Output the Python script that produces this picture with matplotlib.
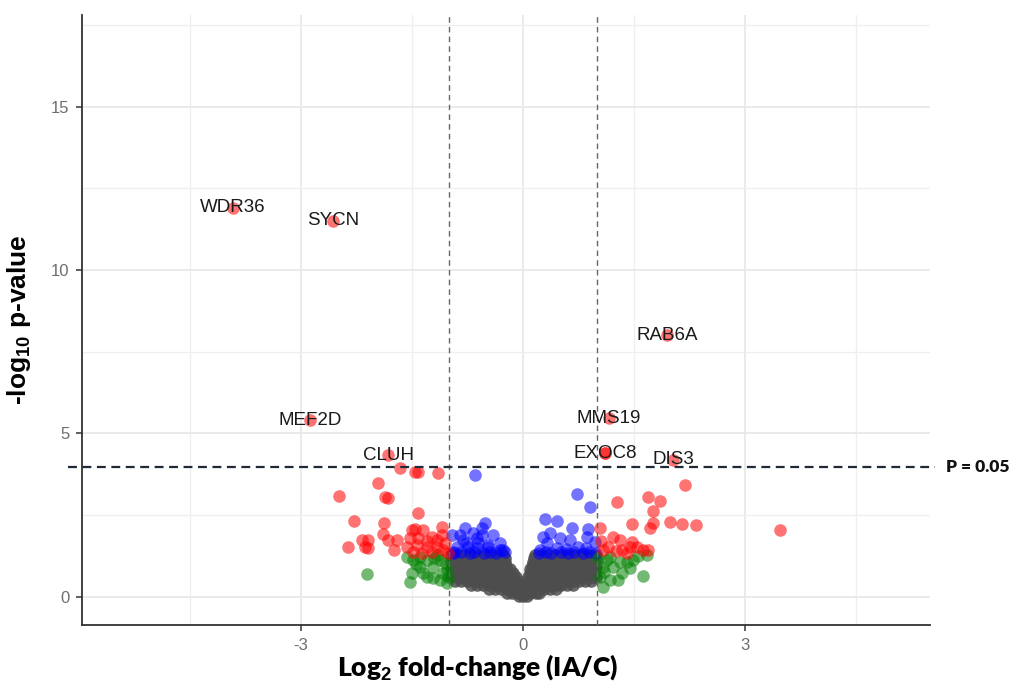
import matplotlib
matplotlib.use("Agg")
import matplotlib.pyplot as plt
from matplotlib.ticker import MultipleLocator

# ---------------- data ----------------
# dense non-significant cloud (grey), hand-read row by row
gray_row_y = [0.02, 0.12, 0.24, 0.36, 0.48, 0.60, 0.72, 0.84, 0.96, 1.08, 1.20, 1.28]
gray_row_x = [
    [-0.05, 0.0, 0.05],
    [-0.22, -0.15, -0.08, -0.02, 0.04, 0.10, 0.17, 0.22],
    [-0.46, -0.38, -0.30, -0.22, -0.14, -0.07, 0.0, 0.07, 0.14, 0.21, 0.29, 0.37, 0.45],
    [-0.70, -0.62, -0.54, -0.46, -0.38, -0.30, -0.22, -0.14, -0.06, 0.04, 0.12, 0.20,
     0.28, 0.36, 0.44, 0.52, 0.60, 0.68],
    [-0.92, -0.84, -0.76, -0.68, -0.60, -0.52, -0.44, -0.36, -0.28, -0.20, -0.12, -0.07,
     0.05, 0.12, 0.20, 0.28, 0.36, 0.44, 0.52, 0.60, 0.68, 0.76, 0.84, 0.92],
    [-0.97, -0.89, -0.81, -0.73, -0.65, -0.57, -0.49, -0.41, -0.33, -0.25, -0.17, -0.10,
     0.07, 0.14, 0.22, 0.30, 0.38, 0.46, 0.54, 0.62, 0.70, 0.78, 0.86, 0.94, 0.98],
    [-0.95, -0.87, -0.79, -0.71, -0.63, -0.55, -0.47, -0.39, -0.31, -0.23, -0.14,
     0.09, 0.16, 0.24, 0.32, 0.40, 0.48, 0.56, 0.64, 0.72, 0.80, 0.88, 0.96],
    [-0.97, -0.89, -0.81, -0.73, -0.65, -0.57, -0.49, -0.41, -0.33, -0.25, -0.17,
     0.10, 0.17, 0.25, 0.33, 0.41, 0.49, 0.57, 0.65, 0.73, 0.81, 0.89, 0.97],
    [-0.95, -0.87, -0.79, -0.71, -0.63, -0.55, -0.47, -0.39, -0.31, -0.23,
     0.12, 0.19, 0.27, 0.35, 0.43, 0.51, 0.59, 0.67, 0.75, 0.83, 0.91, 0.98],
    [-0.97, -0.89, -0.81, -0.73, -0.65, -0.57, -0.49, -0.41, -0.33, -0.25,
     0.13, 0.21, 0.29, 0.37, 0.45, 0.53, 0.61, 0.69, 0.77, 0.85, 0.93],
    [-0.95, -0.87, -0.79, -0.71, -0.63, -0.55, -0.47, -0.39, -0.31, -0.25,
     0.15, 0.22, 0.30, 0.38, 0.46, 0.54, 0.62, 0.70, 0.78, 0.86, 0.94, 0.98],
    [-0.97, -0.88, -0.79, -0.70, -0.61, -0.52, -0.43, -0.34, -0.27,
     0.16, 0.25, 0.34, 0.43, 0.52, 0.61, 0.70, 0.79, 0.88, 0.97],
]

# significant p, small fold change (blue)
blue_x = [-0.65, -0.78, -0.68, -0.51, -0.55, -0.40, -0.96, -0.81, -0.62, -0.74, -0.47,
          -0.31, -0.89, -0.61, -0.85, -0.55, -0.47, -0.76, -0.31, -0.62, -0.27, -0.95,
          -0.93, -0.84, -0.72, -0.66, -0.53, -0.44, -0.36, -0.24,
          0.73, 0.91, 0.30, 0.46, 0.66, 0.88, 0.36, 0.27, 0.50, 0.64, 0.86, 0.97,
          0.32, 0.74, 0.46, 0.23, 0.58, 0.85,
          0.21, 0.31, 0.38, 0.52, 0.61, 0.69, 0.81, 0.89, 0.98]
blue_y = [3.73, 2.10, 1.96, 2.26, 2.10, 1.90, 1.90, 1.74, 1.80, 1.53, 1.53,
          1.44, 1.53, 1.65, 1.90, 1.90, 1.59, 1.65, 1.65, 1.50, 1.44, 1.38,
          1.34, 1.37, 1.33, 1.36, 1.34, 1.38, 1.33, 1.36,
          3.15, 2.75, 2.39, 2.33, 2.10, 2.08, 1.96, 1.84, 1.80, 1.74, 1.84, 1.68,
          1.65, 1.53, 1.50, 1.44, 1.45, 1.50,
          1.34, 1.37, 1.33, 1.36, 1.34, 1.38, 1.33, 1.36, 1.34]

# large fold change, non-significant (green)
green_x = [-2.11, -1.57, -1.49, -1.50, -1.53, -1.39, -1.30, -1.22, -1.12, -1.08, -1.03,
           -1.30, -1.22, -1.39, -1.16, -1.35, -1.03, -1.12, -1.45, -1.05, -1.20, -1.02,
           1.62, 1.28, 1.41, 1.68, 1.45, 1.18, 1.08, 1.04, 1.08, 1.22, 1.31, 1.14,
           1.34, 1.18, 1.49, 1.02, 1.10, 1.55]
green_y = [0.70, 1.22, 1.13, 0.73, 0.46, 0.92, 1.13, 0.92, 1.13, 0.73, 0.43,
           0.61, 0.58, 1.22, 1.28, 0.73, 0.83, 0.52, 1.00, 1.05, 1.20, 0.62,
           0.64, 0.52, 1.07, 1.28, 0.89, 1.22, 0.92, 0.61, 0.30, 0.92, 1.07, 1.13,
           0.73, 0.52, 1.13, 1.20, 0.75, 1.25]

# large fold change and significant (red)
red_x = [-2.49, -1.96, -1.86, -1.82, -1.66, -1.46, -1.42, -1.15, -1.42, -2.28, -1.88,
         -2.37, -2.18, -2.09, -2.14, -2.09, -1.89, -1.82, -1.70, -1.74, -1.50, -1.46,
         -1.35, -1.23, -1.09, -1.09, -1.57, -1.43, -1.30, -1.16, -1.08, -1.49, -1.23,
         -1.42, -1.16, -1.36, -1.53, -1.30, -1.05, -1.02,
         2.19, 1.27, 1.69, 1.85, 1.76, 1.04, 1.47, 1.72, 1.76, 1.99, 2.15, 2.34, 3.47,
         1.22, 1.31, 1.45, 1.54, 1.62, 1.69, 1.15, 1.08, 1.34, 1.47, 1.05, 1.25, 1.40]
red_y = [3.09, 3.49, 3.06, 3.02, 3.94, 3.82, 3.82, 3.79, 2.57, 2.33, 2.26,
         1.53, 1.74, 1.74, 1.53, 1.50, 1.93, 1.74, 1.74, 1.44, 2.05, 2.08,
         2.05, 1.84, 2.14, 1.90, 1.53, 1.59, 1.53, 1.53, 1.44, 1.38, 1.38,
         1.80, 1.74, 1.35, 1.80, 1.70, 1.65, 1.35,
         3.43, 2.91, 3.06, 2.94, 2.63, 2.11, 2.23, 2.11, 2.26, 2.29, 2.23, 2.20, 2.05,
         1.84, 1.74, 1.53, 1.53, 1.44, 1.44, 1.53, 1.44, 1.44, 1.68, 1.70, 1.40, 1.35]

# labelled genes
gene_names = ["WDR36", "SYCN", "MEF2D", "CLUH", "RAB6A", "MMS19", "EXOC8", "EXOC8", "DIS3"]
gene_x = [-3.92, -2.57, -2.88, -1.82, 1.95, 1.16, 1.11, 1.11, 2.03]
gene_y = [11.90, 11.50, 5.41, 4.34, 8.01, 5.47, 4.40, 4.40, 4.19]

fc_cut = 1.0
p_line = 3.97

# ---------------- plot ----------------
plt.rcParams["font.family"] = ["Liberation Sans", "DejaVu Sans"]
plt.rcParams["axes.unicode_minus"] = False
plt.rcParams["mathtext.fontset"] = "custom"
plt.rcParams["mathtext.bf"] = "Liberation Sans:bold"
plt.rcParams["mathtext.rm"] = "Liberation Sans"

fig = plt.figure(figsize=(10.16, 6.90), dpi=100)
ax = fig.add_axes([82 / 1016, 1 - 625 / 690, (930 - 82) / 1016, (625 - 15) / 690])

ax.set_xlim(-5.96, 5.50)
ax.set_ylim(-0.86, 17.8)

ax.xaxis.set_major_locator(MultipleLocator(3))
ax.xaxis.set_minor_locator(MultipleLocator(1.5))
ax.yaxis.set_major_locator(MultipleLocator(5))
ax.yaxis.set_minor_locator(MultipleLocator(2.5))
ax.grid(which="major", color="#e8e8e8", linewidth=1.3)
ax.grid(which="minor", color="#efefef", linewidth=0.9)
ax.set_axisbelow(True)

for s in ["top", "right"]:
    ax.spines[s].set_visible(False)
for s in ["left", "bottom"]:
    ax.spines[s].set_color("#333333")
    ax.spines[s].set_linewidth(1.3)
ax.tick_params(which="major", direction="out", length=4, width=1.1, color="#333333",
               labelcolor="#6e6e6e", labelsize=12, pad=5)
ax.tick_params(which="minor", length=0)

ms = 82
gx, gy = [], []
for yv, xs in zip(gray_row_y, gray_row_x):
    for xv in xs:
        gx.append(xv)
        gy.append(yv)
ax.scatter(gx, gy, s=ms, color="#4d4d4d", alpha=0.85, linewidths=0, zorder=2)
ax.scatter(blue_x, blue_y, s=ms, color="#0000ff", alpha=0.55, linewidths=0, zorder=3)
ax.scatter(green_x, green_y, s=ms, color="#008000", alpha=0.55, linewidths=0, zorder=3)
ax.scatter(red_x, red_y, s=ms, color="#ff0000", alpha=0.55, linewidths=0, zorder=4)
ax.scatter(gene_x, gene_y, s=ms, color="#ff0000", alpha=0.55, linewidths=0, zorder=4)

seen = set()
for n, x, y in zip(gene_names, gene_x, gene_y):
    if n in seen:
        continue
    seen.add(n)
    ax.text(x, y, n, ha="center", va="center", fontsize=13.5, color="#1a1a1a", zorder=6)

# threshold lines
for xv in (-fc_cut, fc_cut):
    ax.axvline(xv, color="#666666", linewidth=1.0, linestyle=(0, (4, 3)), zorder=5)
ax.plot([-6.15, 5.57], [p_line, p_line], color="#1f2a36", linewidth=1.6,
        linestyle=(0, (4, 2.5)), clip_on=False, zorder=5)
ax.text(5.72, p_line, "P = 0.05", ha="left", va="center", fontsize=12.5,
        fontweight="heavy", family=["Lato", "DejaVu Sans"], color="#111111")

ax.set_xlabel(r"Log$_\mathbf{2}$ fold-change (IA/C)", fontsize=19, fontweight="heavy",
              family=["Lato", "DejaVu Sans"])
ax.xaxis.set_label_coords(0.467, -0.045)
ax.set_ylabel(r"-log$_\mathbf{10}$ p-value", fontsize=19, fontweight="bold")
ax.yaxis.set_label_coords(-0.058, 0.5)

fig.savefig("out.png", dpi=100)
